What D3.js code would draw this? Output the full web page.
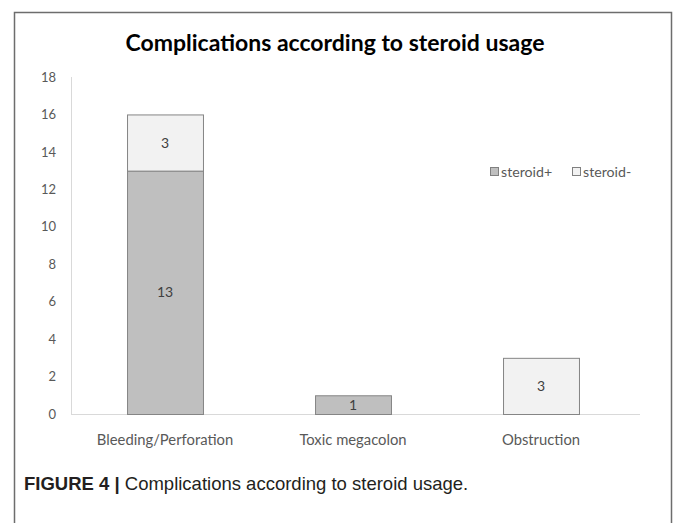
<!DOCTYPE html>
<html>
<head>
<meta charset="utf-8">
<script src="https://cdn.jsdelivr.net/npm/d3@7"></script>
<style>
  html, body { margin: 0; padding: 0; background: #fff; }
  svg { display: block; }
</style>
</head>
<body>
<svg id="chart" width="673" height="523"></svg>
<script>
// Complications by steroid usage (stacked counts)
const categories = ["Bleeding/Perforation", "Toxic megacolon", "Obstruction"];
const seriesNames = ["steroid+", "steroid-"];
const steroidPlus = [13, 1, 0];
const steroidMinus = [3, 0, 3];
const yTicks = [0, 2, 4, 6, 8, 10, 12, 14, 16, 18];

const fills = { "steroid+": "#bfbfbf", "steroid-": "#f2f2f2" };
const font = "Lato, 'Open Sans', sans-serif";

const svg = d3.select("#chart");

// figure frame (open at the bottom)
svg.append("path")
  .attr("d", "M14.5,523 L14.5,12.5 L671.5,12.5 L671.5,523")
  .attr("fill", "none").attr("stroke", "#6d6d6d").attr("stroke-width", 1.5);

const x = d3.scaleBand().domain(categories).range([71, 635]).paddingInner(0.596).paddingOuter(0.298);
const y = d3.scaleLinear().domain([0, 18]).range([414, 77]);

const rows = categories.map((c, i) => ({ cat: c, "steroid+": steroidPlus[i], "steroid-": steroidMinus[i] }));
const stacked = d3.stack().keys(seriesNames)(rows);

// title
svg.append("text")
  .attr("x", 335).attr("y", 51)
  .attr("text-anchor", "middle")
  .attr("font-family", font).attr("font-weight", "bold").attr("font-size", 23)
  .attr("fill", "#000")
  .text("Complications according to steroid usage");

// axes lines
svg.append("line").attr("x1", 71.5).attr("x2", 71.5).attr("y1", y(18)).attr("y2", y(0))
  .attr("stroke", "#d9d9d9");
svg.append("line").attr("x1", 71).attr("x2", 640).attr("y1", y(0) + 0.5).attr("y2", y(0) + 0.5)
  .attr("stroke", "#d9d9d9");

// y tick labels
const yAxis = d3.axisLeft(y).tickValues(yTicks).tickSize(0).tickPadding(15);
const gy = svg.append("g").attr("transform", "translate(71,0)").call(yAxis);
gy.select(".domain").remove();
gy.selectAll("text").attr("font-family", font).attr("font-size", 13).attr("fill", "#595959");

// x category labels
const xAxis = d3.axisBottom(x).tickSize(0).tickPadding(20);
const gx = svg.append("g").attr("transform", `translate(0,${y(0)})`).call(xAxis);
gx.select(".domain").remove();
gx.selectAll("text").attr("font-family", font).attr("font-size", 14.8).attr("fill", "#595959");

// stacked bars
stacked.forEach(layer => {
  const key = layer.key;
  const g = svg.append("g");
  layer.forEach((d, i) => {
    const v = d[1] - d[0];
    if (v <= 0) return;
    const cat = categories[i];
    g.append("rect")
      .attr("x", x(cat) + 0.5).attr("width", x.bandwidth())
      .attr("y", y(d[1]) + 0.5).attr("height", y(d[0]) - y(d[1]))
      .attr("fill", fills[key]).attr("stroke", "#858585").attr("stroke-width", 1);
    g.append("text")
      .attr("x", x(cat) + x.bandwidth() / 2)
      .attr("y", (y(d[0]) + y(d[1])) / 2 + 5)
      .attr("text-anchor", "middle")
      .attr("font-family", font).attr("font-size", 14).attr("fill", "#404040")
      .text(v);
  });
});

// legend
const legend = svg.append("g").attr("transform", "translate(490,166)");
const legendX = [0, 82];
seriesNames.forEach((s, i) => {
  const gi = legend.append("g").attr("transform", `translate(${legendX[i]},0)`);
  gi.append("rect").attr("x", 0.5).attr("y", 1.5).attr("width", 8).attr("height", 8)
    .attr("fill", fills[s]).attr("stroke", "#808080");
  gi.append("text").attr("x", 11).attr("y", 10.5)
    .attr("font-family", font).attr("font-size", 14.2).attr("fill", "#595959")
    .text(s);
});

// caption
const cap = svg.append("text").attr("x", 24).attr("y", 490)
  .attr("font-family", "'Liberation Sans', Arial, sans-serif").attr("font-size", 18.5).attr("fill", "#231f20");
cap.append("tspan").attr("font-weight", "bold").text("FIGURE 4 | ");
cap.append("tspan").text("Complications according to steroid usage.");
</script>
</body>
</html>
